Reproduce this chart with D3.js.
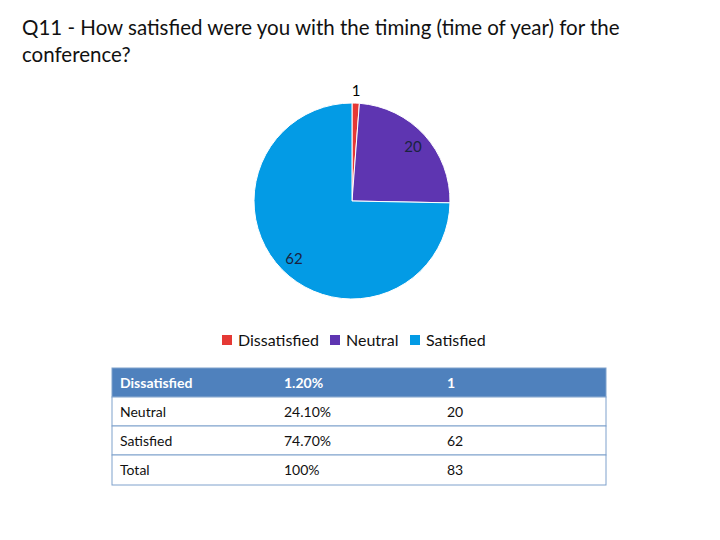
<!DOCTYPE html>
<html><head><meta charset="utf-8">
<script src="https://cdn.jsdelivr.net/npm/d3@7"></script>
<style>body{margin:0;background:#fff}</style>
</head><body>
<svg id="c" width="720" height="540"></svg>
<script>
const categories = ["Dissatisfied", "Neutral", "Satisfied"];
const counts = [1, 20, 62];
const percents = ["1.20%", "24.10%", "74.70%"];
const colors = ["#E53935", "#5E35B1", "#039BE5"];
const totalLabel = ["Total", "100%", "83"];
const titleLines = ["Q11 - How satisfied were you with the timing (time of year) for the", "conference?"];

const svg = d3.select("#c");
const font = "Lato, 'Open Sans', sans-serif";

svg.append("g").selectAll("text").data(titleLines).join("text")
  .attr("x", 22).attr("y", (d, i) => 35 + i * 27)
  .attr("font-family", font).attr("font-size", 20.5).attr("fill", "#111")
  .text(d => d);

const cx = 352, cy = 201, r = 98;
const pie = d3.pie().sort(null).value(d => d)(counts);
const arc = d3.arc().innerRadius(0).outerRadius(r);
const g = svg.append("g").attr("transform", `translate(${cx},${cy})`);
g.selectAll("path").data(pie).join("path")
  .attr("d", arc).attr("fill", (d, i) => colors[i])
  .attr("stroke", "#fff").attr("stroke-width", 1);

const labelPos = [[4, -105], [61, -49], [-58, 63]];
g.selectAll("text").data(pie).join("text")
  .attr("x", (d, i) => labelPos[i][0]).attr("y", (d, i) => labelPos[i][1])
  .attr("text-anchor", "middle").attr("font-family", font).attr("font-size", 15)
  .attr("fill", (d, i) => i === 0 ? "#000" : "#1a2340")
  .text(d => d.data);

// legend
const legX = [222, 330, 410];
const leg = svg.append("g");
categories.forEach((c, i) => {
  leg.append("rect").attr("x", legX[i]).attr("y", 335).attr("width", 10).attr("height", 10).attr("fill", colors[i]);
  leg.append("text").attr("x", legX[i] + 16).attr("y", 346).attr("font-family", font)
    .attr("font-size", 16).attr("fill", "#111").text(c);
});

// table
const rows = categories.map((c, i) => [c, percents[i], String(counts[i])]).concat([totalLabel]);
const tx = 112, tw = 494, rowY = [368, 397, 426, 455, 485];
const colX = [120, 284, 447];
const tg = svg.append("g");
rows.forEach((row, i) => {
  tg.append("rect").attr("x", tx).attr("y", rowY[i]).attr("width", tw).attr("height", rowY[i + 1] - rowY[i])
    .attr("fill", i === 0 ? "#4F81BD" : "#fff").attr("stroke", "#7EA1CC").attr("stroke-width", 1);
  row.forEach((t, j) => {
    tg.append("text").attr("x", colX[j]).attr("y", (rowY[i] + rowY[i + 1]) / 2 + 5)
      .attr("font-family", font).attr("font-size", 14)
      .attr("font-weight", i === 0 ? "bold" : "normal")
      .attr("fill", i === 0 ? "#fff" : "#111").text(t);
  });
});
</script>
</body></html>
